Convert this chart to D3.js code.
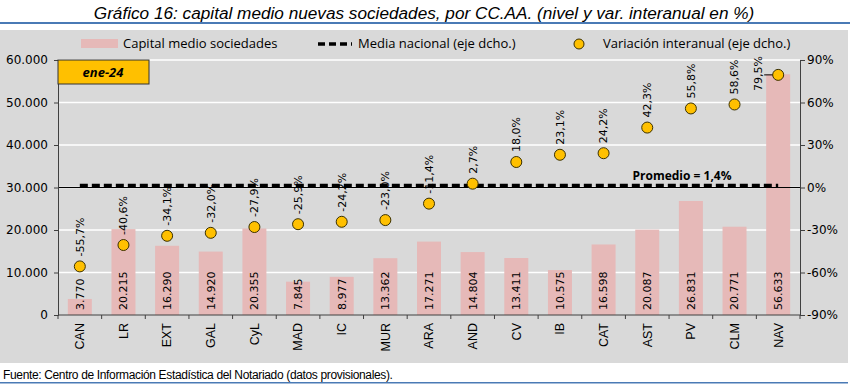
<!doctype html>
<meta charset="utf-8" />
<style>
    body { margin: 0; background: #fff; }
    svg { display: block; }
</style>
<svg></svg>

<script src="https://cdn.jsdelivr.net/npm/d3@7"></script>

<script>
    var regiones = ['CAN', 'LR', 'EXT', 'GAL', 'CyL', 'MAD', 'IC', 'MUR', 'ARA', 'AND', 'CV', 'IB', 'CAT', 'AST', 'PV', 'CLM', 'NAV'];
    var capitalMedio = [3770, 20215, 16290, 14920, 20355, 7845, 8977, 13362, 17271, 14804, 13411, 10575, 16598, 20087, 26831, 20771, 56633];
    var variacion = [-55.7, -40.6, -34.1, -32.0, -27.9, -25.9, -24.2, -23.0, -11.4, 2.7, 18.0, 23.1, 24.2, 42.3, 55.8, 58.6, 79.5];
    var mediaNacional = 1.4;
    var ticksIzq = [0, 10000, 20000, 30000, 40000, 50000, 60000];
    var ticksDer = [-90, -60, -30, 0, 30, 60, 90];

    var W = 850, H = 385;
    var svg = d3.select('svg')
        .attr('width', W)
        .attr('height', H)

    var es = d3.formatLocale({ decimal: ',', thousands: '.', grouping: [3], currency: ['', '€'], minus: '-' });
    var fmtMiles = es.format(',.0f');
    var fmtPct = es.format('.1f');

    // title + lines
    svg.append('text')
        .attr('x', W / 2 - 1).attr('y', 19)
        .attr('text-anchor', 'middle')
        .style('font-family', '"Liberation Sans Narrow", "Liberation Sans", Arial, sans-serif')
        .style('font-style', 'italic')
        .style('font-size', '17.2px')
        .text('Gráfico 16: capital medio nuevas sociedades, por CC.AA. (nivel y var. interanual en %)');

    svg.append('rect').attr('x', 0).attr('y', 22).attr('width', W).attr('height', 2).attr('fill', '#4a7ab5');
    svg.append('rect').attr('x', 0).attr('y', 30).attr('width', 848).attr('height', 333).attr('fill', '#d9d9d9');
    svg.append('rect').attr('x', 0).attr('y', 382).attr('width', 848).attr('height', 1.5).attr('fill', '#4a7ab5');

    svg.append('text')
        .attr('x', 3).attr('y', 379)
        .style('font-family', '"Liberation Sans", Arial, sans-serif')
        .style('font-size', '12px')
        .style('letter-spacing', '-0.35px')
        .text('Fuente: Centro de Información Estadística del Notariado (datos provisionales).');

    // scales
    var x = d3.scaleBand().domain(regiones).range([58, 800]).paddingInner(0.45).paddingOuter(0.225);
    var yL = d3.scaleLinear().domain([0, 60000]).range([315, 60]);
    var yR = d3.scaleLinear().domain([-90, 90]).range([315, 60]);
    var step = x.step();
    var cx = function (d) { return x(d) + x.bandwidth() / 2; };

    // gridlines
    svg.append('g').selectAll('line')
        .data(ticksIzq.filter(function (t) { return t > 0; }))
        .join('line')
        .attr('x1', 58).attr('x2', 800)
        .attr('y1', function (d) { return yL(d); })
        .attr('y2', function (d) { return yL(d); })
        .attr('stroke', '#fff').attr('stroke-width', 1.5);

    // bars
    svg.append('g').selectAll('rect')
        .data(regiones)
        .join('rect')
        .attr('x', function (d) { return x(d); })
        .attr('width', x.bandwidth())
        .attr('y', function (d, i) { return yL(capitalMedio[i]); })
        .attr('height', function (d, i) { return yL(0) - yL(capitalMedio[i]); })
        .attr('fill', '#e6b9b8');

    // zero line of right axis
    svg.append('line')
        .attr('x1', 58).attr('x2', 800)
        .attr('y1', yR(0)).attr('y2', yR(0))
        .attr('stroke', '#000').attr('stroke-width', 1);

    // media nacional
    svg.append('line')
        .attr('x1', cx(regiones[0])).attr('x2', cx(regiones[regiones.length - 1]))
        .attr('y1', yR(mediaNacional)).attr('y2', yR(mediaNacional))
        .attr('stroke', '#000').attr('stroke-width', 3.5)
        .attr('stroke-dasharray', '8,4');

    svg.append('text')
        .attr('x', 682).attr('y', 180)
        .attr('text-anchor', 'middle')
        .style('font-family', '"Open Sans", sans-serif')
        .style('font-weight', 'bold')
        .style('font-size', '12px')
        .text('Promedio = ' + fmtPct(mediaNacional) + '%');

    // axes
    var ejeIzq = svg.append('g')
        .attr('transform', 'translate(58,0)')
        .call(d3.axisLeft(yL).tickValues(ticksIzq).tickFormat(fmtMiles).tickSizeOuter(0).tickSize(4));
    var ejeDer = svg.append('g')
        .attr('transform', 'translate(800,0)')
        .call(d3.axisRight(yR).tickValues(ticksDer).tickFormat(function (d) { return fmtMiles(d) + '%'; }).tickSizeOuter(0).tickSize(5));
    [ejeIzq, ejeDer].forEach(function (g) {
        g.select('.domain').attr('stroke', '#404040');
        g.selectAll('.tick line').attr('stroke', '#404040');
        g.selectAll('.tick text')
            .style('font-family', '"DejaVu Sans", Verdana, sans-serif')
            .style('font-size', '12px')
            .attr('fill', '#000');
    });
    ejeDer.selectAll('.tick text').attr('x', 7);
    ejeIzq.selectAll('.tick text').attr('x', -10);

    // category axis
    var ejeX = svg.append('g').attr('transform', 'translate(0,' + yL(0) + ')');
    ejeX.append('line').attr('x1', 58).attr('x2', 800).attr('stroke', '#404040');
    ejeX.selectAll('line.sep')
        .data(d3.range(regiones.length + 1))
        .join('line')
        .attr('class', 'sep')
        .attr('x1', function (i) { return 58 + i * step; })
        .attr('x2', function (i) { return 58 + i * step; })
        .attr('y1', 0).attr('y2', 4)
        .attr('stroke', '#404040');
    ejeX.selectAll('text')
        .data(regiones)
        .join('text')
        .attr('transform', function (d) { return 'translate(' + cx(d) + ',8) rotate(-90)'; })
        .attr('text-anchor', 'end')
        .attr('dy', '0.35em')
        .style('font-family', '"Liberation Sans", Arial, sans-serif')
        .style('font-size', '12.5px')
        .text(function (d) { return d; });

    // value labels inside bars
    svg.append('g').selectAll('text')
        .data(regiones)
        .join('text')
        .attr('transform', function (d) { return 'translate(' + cx(d) + ',' + (yL(0) - 5) + ') rotate(-90)'; })
        .attr('dy', '0.35em')
        .style('font-family', '"DejaVu Sans", Verdana, sans-serif')
        .style('font-size', '11px')
        .text(function (d, i) { return fmtMiles(capitalMedio[i]); });

    // variation dots + labels
    var puntos = svg.append('g');
    regiones.forEach(function (d, i) {
        var px = cx(d), py = yR(variacion[i]);
        var label = puntos.append('text')
            .attr('dy', '0.35em')
            .style('font-family', '"DejaVu Sans", Verdana, sans-serif')
            .style('font-size', '11px')
            .text(fmtPct(variacion[i]) + '%');
        var len = label.node().getComputedTextLength();
        if (py - 10 - len < yR(90) - 12) {
            // not enough room above: put it to the left with a leader line
            label.attr('transform', 'translate(' + (px - 20) + ',' + (py + 16) + ') rotate(-90)');
            puntos.append('line')
                .attr('x1', px - 14).attr('x2', px)
                .attr('y1', py).attr('y2', py)
                .attr('stroke', '#000');
        } else {
            label.attr('transform', 'translate(' + px + ',' + (py - 10) + ') rotate(-90)');
        }
        puntos.append('circle')
            .attr('cx', px).attr('cy', py).attr('r', 5.5)
            .attr('fill', '#ffc000')
            .attr('stroke', '#3a3000').attr('stroke-width', 1);
    });

    // date box
    svg.append('rect')
        .attr('x', 58).attr('y', 60).attr('width', 91).attr('height', 24)
        .attr('fill', '#ffc000').attr('stroke', '#333').attr('stroke-width', 1);
    svg.append('text')
        .attr('x', 103).attr('y', 77)
        .attr('text-anchor', 'middle')
        .style('font-family', '"Open Sans", sans-serif')
        .style('font-weight', 'bold').style('font-style', 'italic')
        .style('font-size', '13px')
        .text('ene-24');

    // legend
    var ley = svg.append('g')
        .style('font-family', '"Open Sans", sans-serif')
        .style('font-size', '13px');
    ley.append('rect').attr('x', 81).attr('y', 39).attr('width', 37).attr('height', 9).attr('fill', '#e6b9b8');
    ley.append('text').attr('x', 123).attr('y', 48).text('Capital medio sociedades');
    ley.append('line').attr('x1', 318).attr('x2', 352).attr('y1', 44).attr('y2', 44)
        .attr('stroke', '#000').attr('stroke-width', 3.5).attr('stroke-dasharray', '7,4');
    ley.append('text').attr('x', 358).attr('y', 48).text('Media nacional (eje dcho.)');
    ley.append('circle').attr('cx', 579).attr('cy', 44).attr('r', 5)
        .attr('fill', '#ffc000').attr('stroke', '#3a3000');
    ley.append('text').attr('x', 603).attr('y', 48).text('Variación interanual (eje dcho.)');
</script>
